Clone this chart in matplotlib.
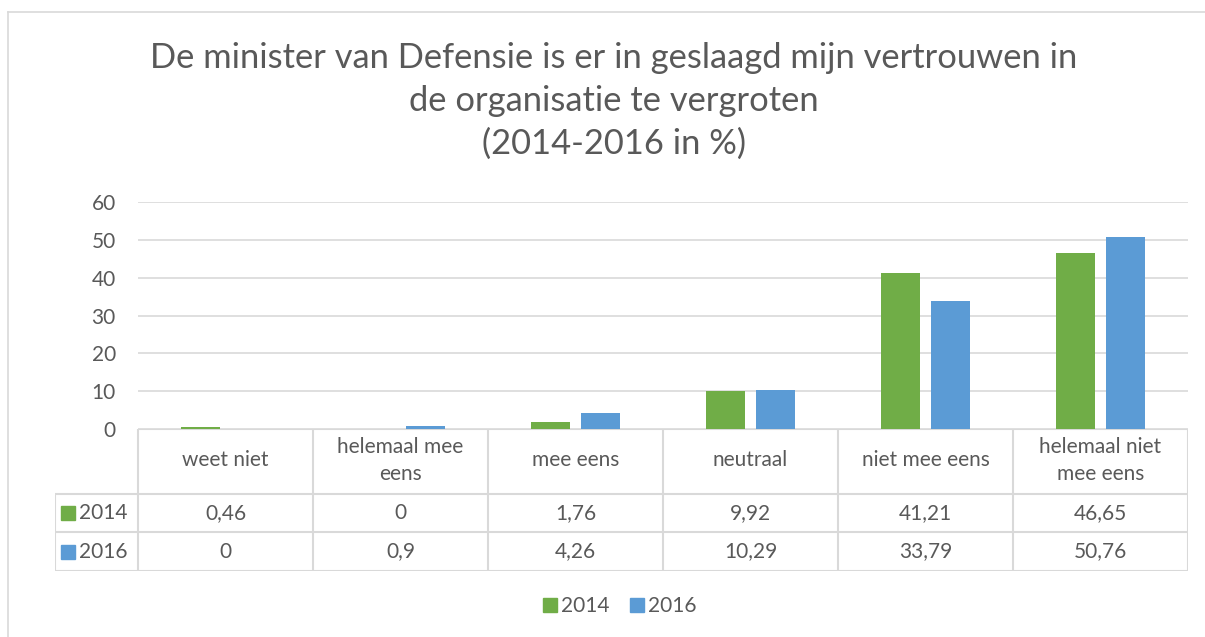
import matplotlib
matplotlib.use("Agg")
import matplotlib.pyplot as plt
from matplotlib.patches import Patch
from matplotlib.lines import Line2D

categories = ["weet niet", "helemaal mee\neens", "mee eens", "neutraal", "niet mee eens", "helemaal niet\nmee eens"]
series_names = ["2014", "2016"]
values_2014 = [0.46, 0, 1.76, 9.92, 41.21, 46.65]
values_2016 = [0, 0.9, 4.26, 10.29, 33.79, 50.76]
labels_2014 = ["0,46", "0", "1,76", "9,92", "41,21", "46,65"]
labels_2016 = ["0", "0,9", "4,26", "10,29", "33,79", "50,76"]
yticks = [0, 10, 20, 30, 40, 50, 60]
title = "De minister van Defensie is er in geslaagd mijn vertrouwen in\nde organisatie te vergroten\n(2014-2016 in %)"

GREEN = "#70AD47"
BLUE = "#5B9BD5"
TXT = "#595959"
GRID = "#D9D9D9"
FONT = ["Lato", "DejaVu Sans"]
plt.rcParams['font.family'] = FONT
FS = 15

W, H = 1205, 637
fig = plt.figure(figsize=(W / 100, H / 100), dpi=100)

def rect(x0, y0, x1, y1):
    # pixel coords (top-left origin) -> figure fraction
    return [x0 / W, 1 - y1 / H, (x1 - x0) / W, (y1 - y0) / H]

# chart border (top and left visible)
fig.add_artist(Line2D([8 / W, 8 / W], [0, 1 - 12 / H], color=GRID, lw=1.2))
fig.add_artist(Line2D([8 / W, 1], [1 - 12 / H, 1 - 12 / H], color=GRID, lw=1.2))

# title
fig.text(614 / W, 1 - 101 / H, title, ha="center", va="center", fontsize=24.8,
         color=TXT, linespacing=1.42)

# main axes
ax = fig.add_axes(rect(138, 202, 1188, 429))
n = len(categories)
x = list(range(n))
bw = 0.22
off = 0.143
ax.bar([i - off for i in x], values_2014, width=bw, color=GREEN, zorder=3)
ax.bar([i + off for i in x], values_2016, width=bw, color=BLUE, zorder=3)
ax.set_xlim(-0.5, n - 0.5)
ax.set_ylim(0, 60)
ax.set_yticks(yticks)
ax.set_yticklabels([str(v) for v in yticks])
ax.set_xticks([])
for s in ax.spines.values():
    s.set_visible(False)
ax.tick_params(axis="y", length=0, pad=16, labelsize=FS, labelcolor=TXT)
ax.yaxis.grid(True, color=GRID, lw=1.2, zorder=0)

# data table axes
tx0, tx1, ty0, ty1 = 55, 1188, 429, 571
tax = fig.add_axes(rect(tx0, ty0, tx1, ty1))
unit = (1188 - 138) / n
left_ext = (138 - tx0) / unit
tax.set_xlim(-0.5 - left_ext, n - 0.5)
tax.set_ylim(0, ty1 - ty0)
tax.axis("off")
hgt = ty1 - ty0
r1 = 571 - 494
r2 = 571 - 532
lkw = dict(color=GRID, lw=1.5, solid_capstyle="butt")
# horizontals
tax.plot([-0.5, n - 0.5], [hgt, hgt], **lkw)
for yy in (r1, r2, 0):
    tax.plot([-0.5 - left_ext, n - 0.5], [yy, yy], **lkw)
# verticals
tax.plot([-0.5 - left_ext, -0.5 - left_ext], [0, r1], **lkw)
for k in range(n + 1):
    tax.plot([k - 0.5, k - 0.5], [0, hgt], **lkw)
# text
for i, c in enumerate(categories):
    tax.text(i, (r1 + hgt) / 2 + 1, c, ha="center", va="center", fontsize=FS,
             color=TXT, linespacing=1.4)
    tax.text(i, (r1 + r2) / 2, labels_2014[i], ha="center", va="center", fontsize=FS, color=TXT)
    tax.text(i, r2 / 2, labels_2016[i], ha="center", va="center", fontsize=FS, color=TXT)
lx = -0.5 - left_ext + 7 / unit
for yy, col, nm in ((r1 + r2) / 2, GREEN, series_names[0]), (r2 / 2, BLUE, series_names[1]):
    tax.plot([lx + 6 / unit], [yy], marker="s", markersize=9.5, color=col, linestyle="none")
    tax.text(lx + 17 / unit, yy, nm, ha="left", va="center", fontsize=FS, color=TXT)

# legend
handles = [Patch(color=GREEN, label=series_names[0]), Patch(color=BLUE, label=series_names[1])]
leg = fig.legend(handles=handles, loc="center", bbox_to_anchor=(620 / W, 1 - 606 / H), ncol=2,
                 frameon=False, fontsize=FS, handlelength=0.65, handleheight=0.65,
                 handletextpad=0.2, columnspacing=1.0)
for t in leg.get_texts():
    t.set_color(TXT)

fig.savefig("out.png", dpi=100)
